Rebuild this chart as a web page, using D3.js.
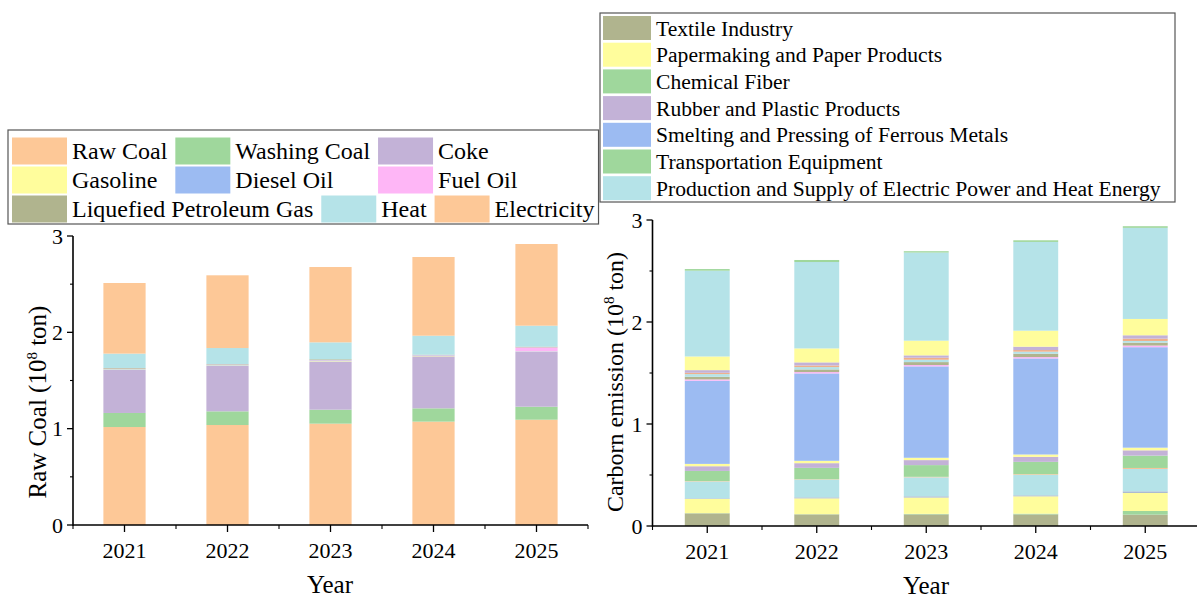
<!DOCTYPE html>
<html><head><meta charset="utf-8">
<script src="https://cdn.jsdelivr.net/npm/d3@7"></script>
<style>
body{margin:0;background:#fff;}
svg, svg text{font-family:"Liberation Serif","DejaVu Serif","Times New Roman",serif;}
</style></head>
<body><svg id="c" width="1197" height="598" font-family="Liberation Serif, DejaVu Serif, serif"></svg>
<script>
// ---------- DATA ----------
const years = ["2021","2022","2023","2024","2025"];
const yTicks = [0,1,2,3];

// Left chart: energy types (10^8 ton)
const energyTypes = ["Raw Coal","Washing Coal","Coke","Gasoline","Diesel Oil","Fuel Oil","Liquefied Petroleum Gas","Heat","Electricity"];
const rawCoal     = [1.017,1.038,1.052,1.073,1.093];
const washingCoal = [0.146,0.142,0.145,0.138,0.135];
const coke        = [0.449,0.474,0.499,0.540,0.571];
const gasoline    = [0.004,0.004,0.005,0.004,0.002];
const dieselOil   = [0.004,0.005,0.006,0.005,0.003];
const fuelOil     = [0.003,0.003,0.004,0.003,0.040];
const lpg         = [0.007,0.005,0.009,0.005,0.007];
const heat        = [0.149,0.166,0.176,0.197,0.218];
const electricity = [0.733,0.755,0.782,0.817,0.848];
const energyValues = [rawCoal,washingCoal,coke,gasoline,dieselOil,fuelOil,lpg,heat,electricity];
const energyColors = ["#fdc897","#9fd79c","#c3b2d7","#fffd9c","#9cbbf2","#feb6f6","#b0b48e","#b5e3e8","#fdc897"];

// Right chart: industry sectors, bottom to top (10^8 ton)
const sectors = ["Textile Industry","Other sector 1","Papermaking and Paper Products","Other sector 2","Other sector 3","Other sector 4",
  "Chemical Fiber","Rubber and Plastic Products","Other sector 5","Smelting and Pressing of Ferrous Metals","Other sector 6",
  "Other sector 7","Other sector 8","Other sector 9","Other sector 10","Other sector 11",
  "Production and Supply of Electric Power and Heat Energy","Transportation Equipment"];
const sectorValues = [
  [0.124,0.114,0.114,0.114,0.111],
  [0.002,0.002,0.005,0.007,0.036],
  [0.139,0.155,0.160,0.170,0.177],
  [0.006,0.010,0.012,0.010,0.016],
  [0.165,0.173,0.186,0.200,0.219],
  [0.004,0.004,0.005,0.007,0.010],
  [0.100,0.112,0.115,0.121,0.121],
  [0.046,0.046,0.049,0.049,0.052],
  [0.023,0.023,0.023,0.023,0.026],
  [0.815,0.857,0.896,0.942,0.985],
  [0.013,0.013,0.013,0.013,0.016],
  [0.026,0.026,0.029,0.033,0.029],
  [0.026,0.023,0.023,0.020,0.016],
  [0.013,0.016,0.020,0.016,0.023],
  [0.026,0.030,0.023,0.033,0.033],
  [0.134,0.137,0.144,0.157,0.160],
  [0.841,0.847,0.864,0.870,0.893],
  [0.016,0.020,0.013,0.016,0.016]
];
const sectorColors = ["#b0b48e","#9fd79c","#fffd9c","#a9b8cf","#b5e3e8","#f6c49a","#9fd79c","#c3b2d7","#fffd9c","#9cbbf2",
  "#feb6f6","#b0b48e","#b5e3e8","#eeb08c","#c3b2d7","#fffd9c","#b5e3e8","#9fd79c"];
const sectorLegend = ["Textile Industry","Papermaking and Paper Products","Chemical Fiber","Rubber and Plastic Products",
  "Smelting and Pressing of Ferrous Metals","Transportation Equipment","Production and Supply of Electric Power and Heat Energy"];

// ---------- DRAW ----------
const svg = d3.select("#c");
const FONT = "Liberation Serif, DejaVu Serif, serif";

function buildRows(keys, vals){
  return years.map((y,i)=>{ const r={year:y}; keys.forEach((k,j)=>r[k]=vals[j][i]); return r; });
}
function txt(sel){ return sel.append("text").attr("font-family",FONT).attr("fill","#000"); }

function drawChart(o){
  const g = svg.append("g");
  const x = d3.scaleBand().domain(years).range([o.x0,o.x1]).paddingInner(0).paddingOuter(0);
  const y = d3.scaleLinear().domain([0,3]).range([o.yb,o.yt]);
  const rows = buildRows(o.keys,o.vals);
  const series = d3.stack().keys(o.keys)(rows);
  const bw = x.bandwidth()*0.41;
  series.forEach((s,si)=>{
    g.selectAll(null).data(s).enter().append("rect")
      .attr("x",d=>x(d.data.year)+x.bandwidth()/2-bw/2)
      .attr("width",bw)
      .attr("y",d=>y(d[1]))
      .attr("height",d=>Math.max(0,y(d[0])-y(d[1])))
      .attr("fill",o.colors[si]);
  });
  const xa = g.append("g").attr("transform",`translate(0,${o.yb})`);
  xa.append("line").attr("x1",o.x0).attr("x2",o.x1).attr("stroke","#000").attr("stroke-width",1.6);
  years.forEach(yr=>{
    const cx = x(yr)+x.bandwidth()/2;
    xa.append("line").attr("x1",cx).attr("x2",cx).attr("y1",0).attr("y2",7).attr("stroke","#000").attr("stroke-width",1.3);
    txt(xa).attr("x",cx).attr("y",33).attr("text-anchor","middle").attr("font-size",22).text(yr);
  });
  d3.range(years.length+1).forEach(i=>{
    const bx = o.x0 + i*x.step();
    xa.append("line").attr("x1",bx).attr("x2",bx).attr("y1",0).attr("y2",4).attr("stroke","#000").attr("stroke-width",1.1);
  });
  txt(xa).attr("x",o.xTitleX).attr("y",o.xTitleY).attr("text-anchor","middle").attr("font-size",25).text("Year");
  const ya = g.append("g").attr("transform",`translate(${o.x0},0)`);
  ya.append("line").attr("y1",o.yb+0.8).attr("y2",y(3)).attr("stroke","#000").attr("stroke-width",1.6);
  yTicks.forEach(t=>{
    ya.append("line").attr("x1",0).attr("x2",-6).attr("y1",y(t)).attr("y2",y(t)).attr("stroke","#000").attr("stroke-width",1.3);
    txt(ya).attr("x",-10).attr("y",y(t)).attr("dy","0.35em").attr("text-anchor","end").attr("font-size",22).text(t);
  });
  [0.5,1.5,2.5].forEach(t=>{
    ya.append("line").attr("x1",0).attr("x2",-3).attr("y1",y(t)).attr("y2",y(t)).attr("stroke","#000").attr("stroke-width",1.1);
  });
  const tt = txt(g).attr("transform",`translate(${o.yTitleX},${o.yTitleY})rotate(-90)`)
    .attr("text-anchor","middle").attr("font-size",o.yTitleFs);
  tt.append("tspan").text(o.yTitle+" (10");
  tt.append("tspan").attr("dy",-9).attr("font-size",15).text("8");
  tt.append("tspan").attr("dy",9).text(" ton)");
}

drawChart({x0:73,x1:588,yb:525,yt:236,keys:energyTypes,vals:energyValues,colors:energyColors,
  yTitle:"Raw Coal",yTitleX:46,yTitleY:402,yTitleFs:25,xTitleX:330,xTitleY:68});
drawChart({x0:652.5,x1:1200,yb:526,yt:220,keys:sectors,vals:sectorValues,colors:sectorColors,
  yTitle:"Carborn emission",yTitleX:623,yTitleY:382,yTitleFs:24,xTitleX:926,xTitleY:68});

// ---------- LEFT LEGEND ----------
(function(){
  const g = svg.append("g");
  const fs = 24, sw=55, sh=27, gap=5, itemGap=8;
  const rowsY = [151,180,209];
  const layout = [[0,1,2],[3,4,5],[6,7,8]];
  const meas = txt(svg).attr("font-size",fs);
  const tw = energyTypes.map(n=>{ meas.text(n); return meas.node().getComputedTextLength(); });
  meas.remove();
  const colStart=[12,0,0];
  for(let c=1;c<3;c++){
    let m=0; for(let r=0;r<2;r++){ const idx=layout[r][c-1]; m=Math.max(m, colStart[c-1]+sw+gap+tw[idx]+itemGap); }
    colStart[c]=m;
  }
  let maxEnd=0;
  const box = g.append("rect");
  layout.forEach((row,r)=>{
    let prevEnd = -1e9;
    row.forEach((idx,c)=>{
      const sx = Math.max(colStart[c], prevEnd+itemGap);
      g.append("rect").attr("x",sx).attr("y",rowsY[r]-sh/2).attr("width",sw).attr("height",sh).attr("fill",energyColors[idx]);
      txt(g).attr("x",sx+sw+gap).attr("y",rowsY[r]).attr("dy","0.35em").attr("font-size",fs).text(energyTypes[idx]);
      prevEnd = sx+sw+gap+tw[idx];
      maxEnd=Math.max(maxEnd,prevEnd);
    });
  });
  box.attr("x",8).attr("y",130).attr("width",maxEnd+4-8).attr("height",94)
    .attr("fill","#fff").attr("stroke","#555").attr("stroke-width",1.2);
})();

// ---------- RIGHT LEGEND ----------
(function(){
  const g = svg.append("g");
  const fs = 21.6, sw=48, sh=24;
  const y0=28, dy=26.7;
  g.append("rect").attr("x",600).attr("y",13).attr("width",575).attr("height",189)
    .attr("fill","#fff").attr("stroke","#555").attr("stroke-width",1.2);
  sectorLegend.forEach((n,i)=>{
    const ci = sectors.indexOf(n);
    g.append("rect").attr("x",603).attr("y",y0+i*dy-sh/2).attr("width",sw).attr("height",sh).attr("fill",sectorColors[ci]);
    txt(g).attr("x",656).attr("y",y0+i*dy).attr("dy","0.35em").attr("font-size",fs).text(n);
  });
})();
</script></body></html>
